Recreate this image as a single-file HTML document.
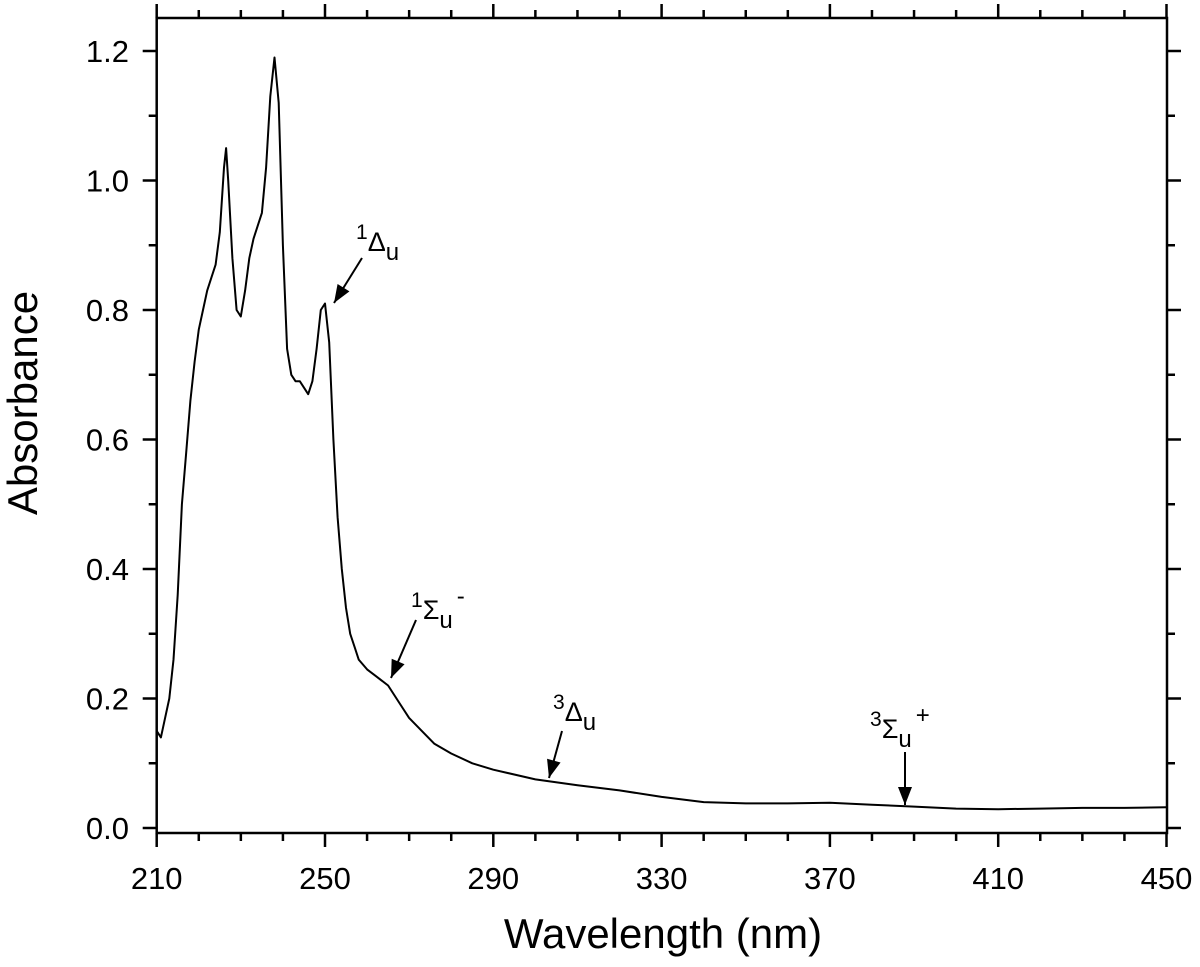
<!DOCTYPE html>
<html><head><meta charset="utf-8"><style>body{margin:0;background:#fff}svg{display:block;font-family:"Liberation Sans",sans-serif}</style></head>
<body>
<svg id="chart" width="1200" height="967" viewBox="0 0 1200 967">
<g id="axes"></g>
<path id="curve" fill="none" stroke="#000" stroke-width="2" stroke-linejoin="round"/>
<g id="annots" font-size="27"></g>
<text x="663" y="948" font-size="42" text-anchor="middle">Wavelength (nm)</text>
<text transform="translate(37,403) rotate(-90)" font-size="42" text-anchor="middle">Absorbance</text>
</svg>
<script>
const wavelengths=[210,211,212,213,214,215,216,217,218,219,220,221,222,223,224,225,226,226.5,227,228,229,230,231,232,233,234,235,236,237,238,239,240,241,242,243,244,245,246,247,248,249,250,251,252,253,254,255,256,257,258,260,262,265,268,270,273,276,280,285,290,300,310,320,330,340,350,360,370,380,390,400,410,420,430,440,450];
const absorbance=[0.15,0.14,0.17,0.20,0.26,0.36,0.50,0.58,0.66,0.72,0.77,0.80,0.83,0.85,0.87,0.92,1.02,1.05,1.0,0.88,0.80,0.79,0.83,0.88,0.91,0.93,0.95,1.02,1.13,1.19,1.12,0.90,0.74,0.70,0.69,0.69,0.68,0.67,0.69,0.74,0.80,0.81,0.75,0.60,0.48,0.40,0.34,0.30,0.28,0.26,0.245,0.235,0.22,0.19,0.17,0.15,0.13,0.115,0.10,0.09,0.075,0.066,0.058,0.048,0.04,0.038,0.038,0.039,0.036,0.033,0.030,0.029,0.030,0.031,0.031,0.032];
const xTicks=[210,250,290,330,370,410,450];
const yTicks=[0.0,0.2,0.4,0.6,0.8,1.0,1.2];
const labels=[{t:"1",s:"Δ",sub:"u",sup2:"",lx:356,ly:251,ax:362,ay:258,bx:334,by:303},
{t:"1",s:"Σ",sub:"u",sup2:"-",lx:411,ly:619,ax:416,ay:620,bx:391,by:678},
{t:"3",s:"Δ",sub:"u",sup2:"",lx:553,ly:721,ax:562,ay:731,bx:549,by:778},
{t:"3",s:"Σ",sub:"u",sup2:"+",lx:870,ly:738,ax:905,ay:752,bx:905,by:805}];
const X=v=>156.7+(v-210)*168.3/40;
const Y=v=>828-v*647.5;
const NS="http://www.w3.org/2000/svg";
const ax=document.getElementById('axes');
function mk(tag,at,par){const e=document.createElementNS(NS,tag);for(const k in at)e.setAttribute(k,at[k]);(par||ax).appendChild(e);return e;}
const L=156.7,R=1167,T=18,B=833;
const fr=mk('rect',{x:L,y:T,width:R-L,height:B-T,fill:'none',stroke:'#000','stroke-width':2.5});


for(let w=210;w<=450;w+=10){const maj=(w-210)%40===0;const len=maj?14:8;const x=X(w);
const b=mk('line',{x1:x,x2:x,y1:B,y2:B+len,stroke:'#000','stroke-width':2.5});


const t=mk('line',{x1:x,x2:x,y1:T,y2:T-len,stroke:'#000','stroke-width':2.5});

}
xTicks.forEach(w=>{const t=mk('text',{x:X(w),y:889,'font-size':31,'text-anchor':'middle'});t.textContent=w;

});
for(let i=0;i<=12;i++){const v=i/10;const maj=i%2===0;const len=maj?14:8;const y=Y(v);
const l=mk('line',{x1:L,x2:L-len,y1:y,y2:y,stroke:'#000','stroke-width':2.5});


const r=mk('line',{x1:R,x2:R+len,y1:y,y2:y,stroke:'#000','stroke-width':2.5});

}
yTicks.forEach(v=>{const t=mk('text',{x:129,y:Y(v)+11,'font-size':31,'text-anchor':'end'});t.textContent=v.toFixed(1);

});
document.getElementById('curve').setAttribute('d',wavelengths.map((w,i)=>(i?'L':'M')+X(w).toFixed(1)+','+Y(absorbance[i]).toFixed(1)).join(''));
const an=document.getElementById('annots');
labels.forEach(o=>{
const g=mk('g',{},an);


const t=mk('text',{x:o.lx,y:o.ly},g);
t.innerHTML=`<tspan font-size="21" dy="-12">${o.t}</tspan><tspan dy="12">${o.s}</tspan><tspan font-size="24" dy="9">${o.sub}</tspan>`+(o.sup2?`<tspan font-size="24" dx="4" dy="-24">${o.sup2}</tspan>`:'');
mk('line',{x1:o.ax,y1:o.ay,x2:o.bx,y2:o.by,stroke:'#000','stroke-width':2},g);
const dx=o.bx-o.ax,dy=o.by-o.ay,d=Math.hypot(dx,dy),ux=dx/d,uy=dy/d,h=18,wd=7;
const px=o.bx-ux*h,py=o.by-uy*h;
mk('polygon',{points:`${o.bx},${o.by} ${px-uy*wd},${py+ux*wd} ${px+uy*wd},${py-ux*wd}`,fill:'#000'},g);
});
</script>
</body></html>
